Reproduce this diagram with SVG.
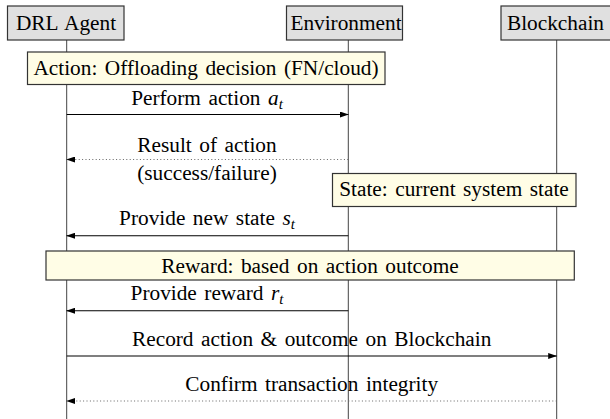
<svg xmlns="http://www.w3.org/2000/svg" width="610" height="419" viewBox="0 0 610 419">
<defs>
<marker id="ah" markerWidth="9" markerHeight="6" refX="8.5" refY="3" orient="auto" markerUnits="userSpaceOnUse">
<path d="M0,0 L9,3 L0,6 Z" fill="#000"/>
</marker>
</defs>
<style>
.t{font-family:"Liberation Serif","Times New Roman",serif;font-size:21.3px;word-spacing:2.2px;text-anchor:middle;fill:#000}
.i{font-style:italic}
.sub{font-style:italic;font-size:15px}
.actor{fill:#e0e0e0;stroke:#333;stroke-width:1.2}
.note{fill:#fffde6;stroke:#333;stroke-width:1.2}
.life{stroke:#444;stroke-width:1;fill:none}
.msg{stroke:#000;stroke-width:1.1;fill:none;marker-end:url(#ah)}
.dot{stroke:#666;stroke-width:1.1;fill:none;stroke-dasharray:1 2.4;marker-end:url(#ah)}
</style>
<rect width="610" height="419" fill="#fff"/>
<g id="lifelines">
<line class="life" x1="66.7" y1="40" x2="66.7" y2="419"/>
<line class="life" x1="348.3" y1="40" x2="348.3" y2="419"/>
<line class="life" x1="556.7" y1="40" x2="556.7" y2="419"/>
</g>
<g id="agent">
<rect class="actor" x="7.5" y="6" width="116.5" height="34"/>
<text class="t" x="66" y="29.5">DRL Agent</text>
</g>
<g id="environment">
<rect class="actor" x="286.5" y="6" width="116" height="34"/>
<text class="t" x="346" y="29.5">Environment</text>
</g>
<g id="blockchain">
<rect class="actor" x="501" y="6" width="112" height="34"/>
<text class="t" x="555.5" y="29.5">Blockchain</text>
</g>
<g id="note-action">
<rect class="note" x="27.5" y="52" width="357.5" height="32.5"/>
<text class="t" x="206" y="75">Action: Offloading decision (FN/cloud)</text>
</g>
<g id="note-state">
<rect class="note" x="332.5" y="173.5" width="243.5" height="33"/>
<text class="t" x="454" y="196">State: current system state</text>
</g>
<g id="note-reward">
<rect class="note" x="46" y="251" width="528.3" height="29"/>
<text class="t" x="310" y="272.5">Reward: based on action outcome</text>
</g>
<g id="connectors">
<line class="msg" x1="66.7" y1="114.5" x2="348.3" y2="114.5"/>
<line class="dot" x1="348.3" y1="159.5" x2="66.7" y2="159.5"/>
<line class="msg" x1="348.3" y1="235.7" x2="66.7" y2="235.7"/>
<line class="msg" x1="348.3" y1="310.7" x2="66.7" y2="310.7"/>
<line class="msg" x1="66.7" y1="356" x2="556.7" y2="356"/>
<line class="dot" x1="556.7" y1="401" x2="66.7" y2="401"/>
</g>
<g id="labels">
<text class="t" x="207" y="104.5">Perform action <tspan class="i">a</tspan><tspan class="sub" dy="4">t</tspan></text>
<text class="t" x="207" y="152">Result of action</text>
<text class="t" x="207" y="180">(success/failure)</text>
<text class="t" x="207" y="224.5">Provide new state <tspan class="i">s</tspan><tspan class="sub" dy="4">t</tspan></text>
<text class="t" x="207" y="299.5">Provide reward <tspan class="i">r</tspan><tspan class="sub" dy="4">t</tspan></text>
<text class="t" x="311.7" y="346">Record action &amp; outcome on Blockchain</text>
<text class="t" x="311.7" y="390.5">Confirm transaction integrity</text>
</g>
</svg>
